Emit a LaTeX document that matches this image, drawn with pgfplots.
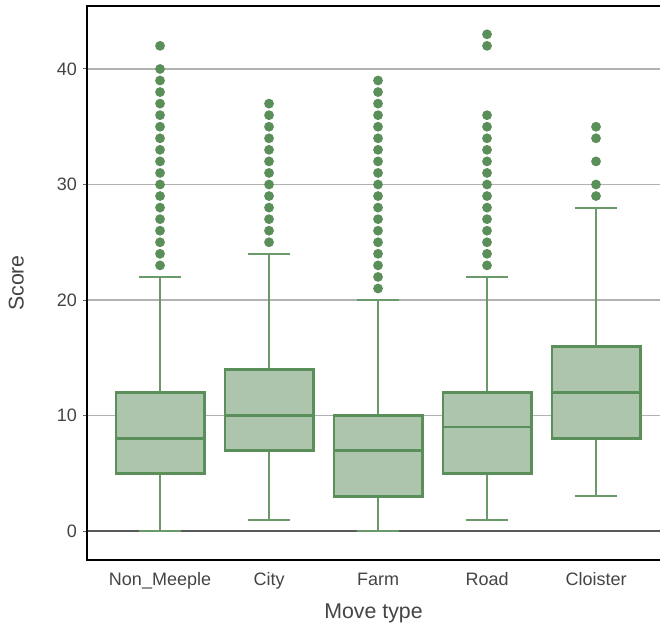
\documentclass[border=0pt]{standalone}
\usepackage{pgfplots}
\pgfplotsset{compat=1.18}
\usepgfplotslibrary{statistics}
\usepackage{fontspec}
\setmainfont{Liberation Sans}
\definecolor{boxfill}{HTML}{ADC5AD}
\definecolor{boxline}{HTML}{5A8F5A}
\definecolor{whisk}{HTML}{6A9A6A}
\definecolor{dotc}{HTML}{5A8F5A}
\definecolor{txt}{HTML}{444444}
\pgfplotsset{mybox/.style={draw=boxline, fill=boxfill, line width=2pt, mark=*, mark options={fill=dotc, draw=none, mark size=2.6pt},
  boxplot/draw/median/.code={\draw[draw=boxline, line width=2pt] (boxplot box cs:\pgfplotsboxplotvalue{median},0) -- (boxplot box cs:\pgfplotsboxplotvalue{median},1);},
  boxplot/every whisker/.style={draw=whisk, line width=1.5pt}}}
\begin{document}
\begin{tikzpicture}
\begin{axis}[
  scale only axis,
  width=429.75pt, height=415.5pt,
  xmin=-0.67, xmax=4.587,
  ymin=-2.5, ymax=45.45,
  xtick={0,1,2,3,4},
  xticklabels={Non\_Meeple,City,Farm,Road,Cloister},
  ytick={10,20,30,40},
  extra y ticks={0},
  extra y tick style={grid style={color=black!65, line width=1pt}},
  ymajorgrids,
  grid style={color=black!30, line width=1pt},
  major tick length=3pt,
  tick align=outside,
  ytick pos=left,
  ytick style={draw=black!60, line width=0.8pt},
  xtick style={draw=none},
  axis line style={draw=none},
  /pgf/number format/assume math mode=true,
  tick label style={font=\fontsize{13.5}{16}\selectfont, text=txt},
  label style={font=\fontsize{16}{19}\selectfont, text=txt},
  xlabel={Move type},
  ylabel={Score},
  xlabel style={yshift=-5pt},
  ylabel style={yshift=12pt},
  yticklabel style={xshift=-1pt},
  xticklabel style={yshift=-4pt, text height=1.6ex, text depth=0.4ex},
  clip=false,
  boxplot/draw direction=y,
  boxplot/box extend=0.81,
  boxplot/whisker extend=0.39,
]
% Non_Meeple
\addplot+[mybox, boxplot prepared={draw position=0, lower whisker=0, lower quartile=5, median=8, upper quartile=12, upper whisker=22}]
table[row sep=\\, y index=0] {23\\24\\25\\26\\27\\28\\29\\30\\31\\32\\33\\34\\35\\36\\37\\38\\39\\40\\42\\};
% City
\addplot+[mybox, boxplot prepared={draw position=1, lower whisker=1, lower quartile=7, median=10, upper quartile=14, upper whisker=24}]
table[row sep=\\, y index=0] {25\\26\\27\\28\\29\\30\\31\\32\\33\\34\\35\\36\\37\\};
% Farm
\addplot+[mybox, boxplot prepared={draw position=2, lower whisker=0, lower quartile=3, median=7, upper quartile=10, upper whisker=20}]
table[row sep=\\, y index=0] {21\\22\\23\\24\\25\\26\\27\\28\\29\\30\\31\\32\\33\\34\\35\\36\\37\\38\\39\\};
% Road
\addplot+[mybox, boxplot prepared={draw position=3, lower whisker=1, lower quartile=5, median=9, upper quartile=12, upper whisker=22}]
table[row sep=\\, y index=0] {23\\24\\25\\26\\27\\28\\29\\30\\31\\32\\33\\34\\35\\36\\42\\43\\};
% Cloister
\addplot+[mybox, boxplot prepared={draw position=4, lower whisker=3, lower quartile=8, median=12, upper quartile=16, upper whisker=28}]
table[row sep=\\, y index=0] {29\\30\\32\\34\\35\\};
\draw[black, line width=2.2pt] (rel axis cs:1,1) -- (rel axis cs:0,1) -- (rel axis cs:0,0) -- (rel axis cs:1,0);
\end{axis}
\pgfresetboundingbox
\path (current axis.south west) ++(-65.25pt,-51pt) coordinate (bl);
\path (current axis.north east) ++(0,4.5pt) coordinate (tr);
\path (bl) rectangle (tr);
\end{tikzpicture}
\end{document}
